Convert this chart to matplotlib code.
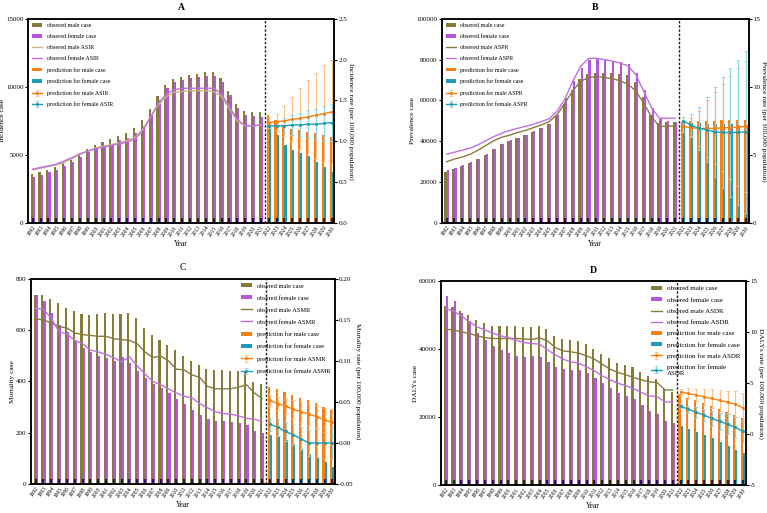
import matplotlib.pyplot as plt
import numpy as np

plt.rcParams['font.family'] = ['Liberation Serif', 'DejaVu Serif']

# --- Data
obs_years = list(range(1992, 2022))
pred_years = list(range(2022, 2031))
years = obs_years + pred_years

# A: incidence
inc_male_case = [3600, 3750, 3920, 4120, 4410, 4650, 5100, 5470, 5710, 5950, 6170, 6420, 6640, 6960, 7550,
                 8400, 9360, 10170, 10590, 10730, 10860, 10980, 11080, 11080, 10640, 9730, 8750, 8260, 8160, 8160]
inc_female_case = [3360, 3530, 3720, 3900, 4170, 4480, 4830, 5200, 5420, 5610, 5830, 6080, 6230, 6620, 7110,
                   8040, 9070, 9900, 10370, 10540, 10640, 10760, 10830, 10830, 10340, 9410, 8430, 7920, 7840, 7770]
inc_male_rate = [0.65, 0.67, 0.69, 0.71, 0.74, 0.79, 0.84, 0.88, 0.92, 0.94, 0.96, 0.98, 1.01, 1.05, 1.15,
                 1.30, 1.45, 1.55, 1.60, 1.61, 1.62, 1.62, 1.62, 1.61, 1.55, 1.40, 1.25, 1.19, 1.19, 1.20]
inc_female_rate = [0.66, 0.68, 0.70, 0.72, 0.76, 0.80, 0.85, 0.88, 0.91, 0.93, 0.95, 0.97, 0.99, 1.03, 1.13,
                   1.30, 1.47, 1.58, 1.63, 1.65, 1.65, 1.65, 1.65, 1.65, 1.58, 1.42, 1.27, 1.19, 1.19, 1.20]
inc_pred_male_case = [7970, 7550, 7210, 6940, 6810, 6720, 6620, 6500, 6350]
inc_pred_female_case = [7180, 6450, 5760, 5340, 5120, 4930, 4510, 4090, 3730]
inc_pred_male_rate = [1.23, 1.24, 1.25, 1.27, 1.28, 1.30, 1.32, 1.34, 1.36]
inc_pred_male_err = [0.07, 0.10, 0.18, 0.27, 0.37, 0.45, 0.52, 0.59, 0.64]
inc_pred_female_rate = [1.19, 1.19, 1.19, 1.20, 1.20, 1.21, 1.21, 1.22, 1.23]
inc_pred_female_err = [0.03, 0.06, 0.09, 0.12, 0.15, 0.17, 0.19, 0.21, 0.23]

# B: prevalence
prev_male_case = [25000, 26500, 28000, 29500, 31500, 33500, 36000, 38500, 40000, 41500, 43000, 44500, 46500,
                  48500, 52500, 58500, 65000, 70500, 73000, 73700, 73700, 73500, 73000, 72500, 69000, 61500,
                  53000, 49000, 49500, 49500]
prev_female_case = [25800, 27000, 28500, 30000, 31500, 33800, 36200, 38600, 40500, 41800, 43200, 45000, 46500,
                    48500, 52700, 61000, 69500, 76000, 79700, 80200, 80000, 79500, 79000, 78000, 73500, 65000,
                    56500, 51000, 50000, 49500]
prev_male_rate = [4.5, 4.7, 4.85, 5.05, 5.35, 5.7, 6.05, 6.3, 6.45, 6.65, 6.8, 7.0, 7.2, 7.45, 7.95,
                  8.8, 9.7, 10.4, 10.7, 10.75, 10.7, 10.6, 10.45, 10.2, 9.7, 8.8, 7.8, 7.1, 7.1, 7.15]
prev_female_rate = [5.05, 5.2, 5.35, 5.5, 5.75, 6.05, 6.35, 6.6, 6.8, 6.95, 7.1, 7.25, 7.45, 7.65, 8.2,
                    9.1, 10.4, 11.5, 12.1, 12.1, 12.0, 11.9, 11.75, 11.55, 10.9, 9.7, 8.45, 7.7, 7.7, 7.7]
prev_pred_male_case = [49500, 49800, 50000, 50100, 50200, 50300, 50400, 50500, 50600]
prev_pred_female_case = [49600, 49000, 48800, 48600, 48500, 48400, 48300, 48200, 48100]
prev_pred_male_rate = [7.1, 7.0, 6.95, 6.95, 6.95, 7.0, 7.0, 7.05, 7.1]
prev_pred_male_err = [0.4, 0.7, 1.3, 2.1, 2.65, 3.2, 3.8, 4.35, 4.8]
prev_pred_female_rate = [7.5, 7.2, 6.95, 6.85, 6.7, 6.65, 6.65, 6.65, 6.7]
prev_pred_female_err = [0.3, 0.8, 1.6, 2.4, 3.3, 4.05, 4.75, 5.35, 5.95]

# C: mortality
mort_male_case = [737, 735, 722, 707, 688, 675, 662, 659, 662, 667, 664, 664, 667, 649, 610,
                  581, 563, 543, 523, 501, 480, 463, 447, 443, 443, 442, 440, 436, 399, 390]
mort_female_case = [735, 715, 667, 620, 594, 557, 530, 514, 500, 490, 480, 497, 470, 440, 415,
                    390, 375, 355, 333, 313, 288, 270, 255, 247, 245, 240, 236, 232, 205, 197]
mort_male_rate = [0.151, 0.150, 0.146, 0.142, 0.140, 0.134, 0.132, 0.131, 0.130, 0.130, 0.127, 0.126, 0.125,
                  0.121, 0.111, 0.104, 0.106, 0.100, 0.090, 0.089, 0.083, 0.080, 0.069, 0.066, 0.066, 0.066,
                  0.068, 0.071, 0.061, 0.054]
mort_female_rate = [0.164, 0.163, 0.152, 0.135, 0.133, 0.125, 0.121, 0.113, 0.111, 0.108, 0.104, 0.099, 0.105,
                    0.094, 0.084, 0.075, 0.071, 0.066, 0.061, 0.057, 0.055, 0.048, 0.043, 0.038, 0.036, 0.035,
                    0.033, 0.030, 0.029, 0.026]
mort_pred_male_case = [380, 370, 360, 348, 337, 327, 315, 302, 290]
mort_pred_female_case = [193, 185, 173, 157, 138, 118, 102, 85, 68]
mort_pred_male_rate = [0.052, 0.048, 0.045, 0.041, 0.038, 0.035, 0.032, 0.028, 0.025]
mort_pred_male_err = [0.006, 0.008, 0.010, 0.011, 0.012, 0.013, 0.014, 0.015, 0.016]
mort_pred_female_rate = [0.023, 0.019, 0.014, 0.010, 0.005, 0.000, 0.000, 0.000, 0.000]
mort_pred_female_err = [0.008, 0.010, 0.012, 0.013, 0.014, 0.016, 0.017, 0.018, 0.019]

# D: DALYs
daly_male_case = [52700, 52400, 51200, 49900, 48500, 47600, 46800, 46800, 46800, 46700, 46600, 46400, 46800,
                  45800, 43900, 42800, 42700, 42400, 41400, 40000, 38500, 37200, 36000, 35300, 34600, 33300,
                  32100, 31100, 28200, 27400]
daly_female_case = [55600, 54100, 50500, 48300, 44600, 42600, 40900, 39700, 38800, 38000, 37700, 38000, 37700,
                    36200, 34800, 34100, 33900, 33900, 32900, 31500, 29900, 28400, 27200, 26200, 25300, 23600,
                    21900, 21000, 18700, 18100]
daly_male_rate = [10.27, 10.2, 10.0, 9.85, 9.62, 9.45, 9.36, 9.36, 9.36, 9.36, 9.32, 9.26, 9.42, 9.13, 8.47,
                  8.15, 8.05, 7.92, 7.66, 7.33, 6.84, 6.35, 6.03, 5.80, 5.54, 5.31, 5.11, 5.05, 4.33, 4.30]
daly_female_rate = [12.29, 12.06, 11.57, 10.99, 10.5, 10.2, 9.88, 9.62, 9.45, 9.19, 8.96, 8.87, 8.80, 8.25, 7.76,
                    7.33, 7.07, 6.94, 6.58, 6.19, 5.70, 5.31, 4.98, 4.72, 4.46, 4.07, 3.74, 3.65, 3.16, 3.09]
daly_pred_male_case = [26700, 25700, 25000, 24100, 23300, 22400, 21500, 20700, 19700]
daly_pred_female_case = [17400, 16600, 15700, 14700, 13700, 12500, 11500, 10400, 9300]
daly_pred_male_rate = [4.14, 3.97, 3.81, 3.65, 3.48, 3.29, 3.12, 2.93, 2.57]
daly_pred_male_err = [0.3, 0.5, 0.6, 0.8, 0.9, 1.0, 1.1, 1.25, 1.4]
daly_pred_female_rate = [2.70, 2.44, 2.11, 1.85, 1.52, 1.23, 0.97, 0.64, 0.25]
daly_pred_female_err = [0.2, 0.35, 0.5, 0.6, 0.75, 0.85, 0.95, 1.05, 1.15]

# --- Colours
OLIVE = '#877b3b'
KHAKI = '#c9b77c'
PURPLE = '#b455e0'
PURPLE_LINE = '#c06ee8'
ORANGE = '#f7800f'
TEAL = '#1c9cb8'


def draw_panel(ax, title, bold, male_case, female_case, male_rate, female_rate,
               pm_case, pf_case, pm_rate, pm_err, pf_rate, pf_err,
               case_label, rate_label, abbr, ylim, yticks, ylim2, yticks2, fmt2,
               male_line_color, legend_loc, legend_size, legend_spacing):
    w = 0.27
    obs_x = np.array(obs_years)
    pred_x = np.array(pred_years)
    ax.bar(obs_x - w / 2, male_case, width=w, color=OLIVE, label='obsered male case')
    ax.bar(obs_x + w / 2, female_case, width=w, color=PURPLE, label='obsered female case')
    ax.bar(pred_x - w / 2, pm_case, width=w, color=ORANGE, label='prediction for male case')
    ax.bar(pred_x + w / 2, pf_case, width=w, color=TEAL, label='prediction for female case')
    ax.axvline(2021.5, color='#222222', lw=1.0, ls=(0, (1.8, 1.2)), zorder=5)

    ax.set_xlim(1991.4, 2030.3)
    ax.set_ylim(*ylim)
    ax.set_yticks(yticks)
    ax.set_xticks(years)
    ax.set_xticklabels([str(y) for y in years], rotation=55, ha='right',
                       rotation_mode='anchor', fontsize=4)
    ax.tick_params(axis='x', direction='in', length=3.5, width=1.6, color='#241b3c', pad=1.5)
    ax.tick_params(axis='y', labelsize=5, length=2, width=0.8, pad=1.2)
    ax.set_ylabel(case_label, fontsize=5.3, labelpad=1)
    ax.set_xlabel('Year', fontsize=5.5, labelpad=2)
    ax.set_title(title, fontsize=7, fontweight='bold' if bold else 'normal', pad=6)
    for s in ax.spines.values():
        s.set_linewidth(1.1)

    ax2 = ax.twinx()
    ax2.plot(obs_x, male_rate, color=male_line_color, lw=1.0, label=f'obsered male {abbr}')
    ax2.plot(obs_x, female_rate, color=PURPLE_LINE, lw=1.0, label=f'obsered female {abbr}')
    ax2.errorbar(pred_x, pm_rate, yerr=pm_err, color=ORANGE, ecolor='#f9c08a', lw=1.0,
                 elinewidth=0.8, capsize=1.5, capthick=0.6, marker='o', markersize=1.2,
                 label=f'prediction for male {abbr}')
    female_pred_label = f'prediction for female {abbr}'
    if abbr == 'ASDR':
        female_pred_label = 'prediction for female\nASDR'
    ax2.errorbar(pred_x, pf_rate, yerr=pf_err, color=TEAL, ecolor='#8fd2e2', lw=1.0,
                 elinewidth=0.8, capsize=1.5, capthick=0.6, marker='o', markersize=1.2,
                 label=female_pred_label)
    ax2.set_ylim(*ylim2)
    ax2.set_yticks(yticks2)
    ax2.set_yticklabels([fmt2.format(v) for v in yticks2])
    ax2.tick_params(axis='y', labelsize=5, length=2, width=0.8, pad=1.2)
    ax2.set_ylabel(f'{rate_label} (per 100,000 population)',
                   fontsize=5.3, rotation=270, labelpad=5)
    for s in ax2.spines.values():
        s.set_linewidth(1.1)

    h1, l1 = ax.get_legend_handles_labels()
    h2, l2 = ax2.get_legend_handles_labels()
    # bars: obs male, obs female, pred male, pred female; lines: obs male, obs female, pred male, pred female
    handles = [h1[0], h1[1], h2[0], h2[1], h1[2], h1[3], h2[2], h2[3]]
    labels = [l1[0], l1[1], l2[0], l2[1], l1[2], l1[3], l2[2], l2[3]]
    ax2.legend(handles, labels, loc=legend_loc, frameon=False, fontsize=legend_size,
               handlelength=1.6, handleheight=0.6, labelspacing=legend_spacing, borderaxespad=0.3,
               handletextpad=0.8)
    return ax2


fig = plt.figure(figsize=(7.67, 5.13), dpi=100)
axA = fig.add_axes([0.0365, 0.5653, 0.399, 0.398])
axB = fig.add_axes([0.576, 0.5653, 0.400, 0.398])
axC = fig.add_axes([0.0404, 0.0565, 0.396, 0.400])
axD = fig.add_axes([0.575, 0.0546, 0.397, 0.3977])

draw_panel(axA, 'A', True, inc_male_case, inc_female_case, inc_male_rate, inc_female_rate,
           inc_pred_male_case, inc_pred_female_case, inc_pred_male_rate, inc_pred_male_err,
           inc_pred_female_rate, inc_pred_female_err,
           'Incidence case', 'Incidence rate', 'ASIR',
           (0, 15000), [0, 5000, 10000, 15000], (0, 2.5), [0, 0.5, 1.0, 1.5, 2.0, 2.5], '{:.1f}',
           KHAKI, 'upper left', 4.3, 1.0)

draw_panel(axB, 'B', True, prev_male_case, prev_female_case, prev_male_rate, prev_female_rate,
           prev_pred_male_case, prev_pred_female_case, prev_pred_male_rate, prev_pred_male_err,
           prev_pred_female_rate, prev_pred_female_err,
           'Prevalence case', 'Prevalence rate', 'ASPR',
           (0, 100000), [0, 20000, 40000, 60000, 80000, 100000], (0, 15), [0, 5, 10, 15], '{:.0f}',
           OLIVE, 'upper left', 4.3, 1.0)

draw_panel(axC, 'C', False, mort_male_case, mort_female_case, mort_male_rate, mort_female_rate,
           mort_pred_male_case, mort_pred_female_case, mort_pred_male_rate, mort_pred_male_err,
           mort_pred_female_rate, mort_pred_female_err,
           'Mortality case', 'Mortality rate', 'ASMR',
           (0, 800), [0, 200, 400, 600, 800], (-0.05, 0.20), [-0.05, 0.0, 0.05, 0.10, 0.15, 0.20], '{:.2f}',
           OLIVE, 'upper right', 4.6, 1.05)

draw_panel(axD, 'D', True, daly_male_case, daly_female_case, daly_male_rate, daly_female_rate,
           daly_pred_male_case, daly_pred_female_case, daly_pred_male_rate, daly_pred_male_err,
           daly_pred_female_rate, daly_pred_female_err,
           'DALYs case', 'DALYs rate', 'ASDR',
           (0, 60000), [0, 20000, 40000, 60000], (-5, 15), [-5, 0, 5, 10, 15], '{:.0f}',
           OLIVE, 'upper right', 5.0, 0.8)

fig.savefig('out.png', dpi=100)
